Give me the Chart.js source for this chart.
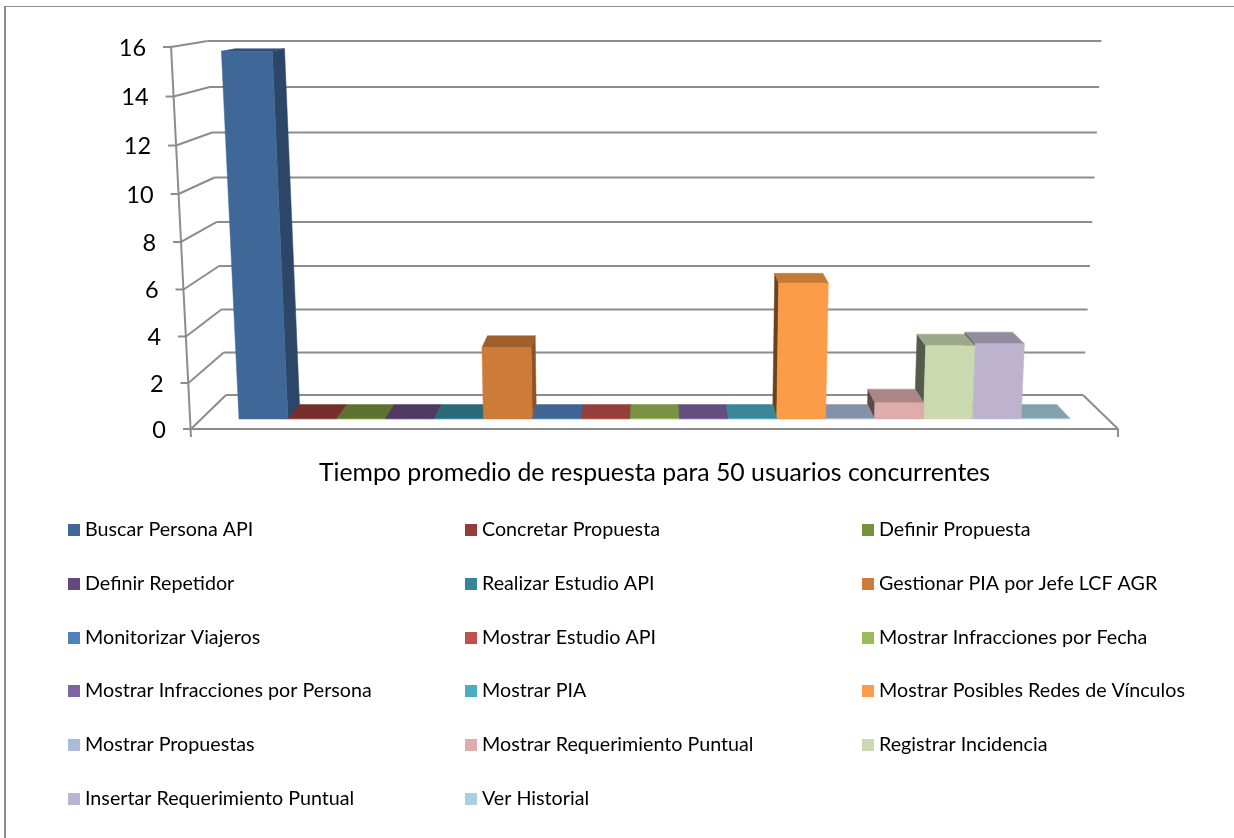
<!DOCTYPE html>
<html>
<head>
<meta charset="utf-8">
<title>Tiempo promedio de respuesta</title>
<style>
  html, body { margin: 0; padding: 0; background: #fff; }
  #frame { position: absolute; left: 4px; top: 6px; right: 0; bottom: 0; border-left: 2px solid #8c8c8c; border-top: 1.5px solid #8c8c8c; }
  canvas { position: absolute; left: 0; top: 0; }
</style>
<script src="https://cdn.jsdelivr.net/npm/chart.js@4/dist/chart.umd.js"></script>
</head>
<body>
<div id="frame"></div>
<canvas id="chart" width="1234" height="838"></canvas>
<script>
"use strict";

const categories = ['Tiempo promedio de respuesta para 50 usuarios concurrentes'];

const seriesNames = [
  'Buscar Persona API', 'Concretar Propuesta', 'Definir Propuesta',
  'Definir Repetidor', 'Realizar Estudio API', 'Gestionar PIA por Jefe LCF AGR',
  'Monitorizar Viajeros', 'Mostrar Estudio API', 'Mostrar Infracciones por Fecha',
  'Mostrar Infracciones por Persona', 'Mostrar PIA', 'Mostrar Posibles Redes de Vínculos',
  'Mostrar Propuestas', 'Mostrar Requerimiento Puntual', 'Registrar Incidencia',
  'Insertar Requerimiento Puntual', 'Ver Historial',
];

const seriesValues = [15.75, 0.02, 0.02, 0.02, 0.02, 3.17, 0.02, 0.02, 0.02, 0.02, 0.02, 5.98, 0.02, 0.73, 3.24, 3.33, 0.02];

const seriesColors = [
  '#3f6797', '#953b39', '#77923d', '#64497c', '#37859d', '#cc7b38',
  '#4f81bd', '#c0504d', '#9bbb59', '#8064a2', '#4bacc6', '#fd9c48',
  '#a9bbd9', '#ddacab', '#cbd9b0', '#bdb3cf', '#a9d0de',
];

const yMax = 16;
const yStep = 2;

const fontFamily = 'Lato, "Noto Sans", sans-serif';
const axisColor = '#8c8c8c';

// view centre and depth of the box
const centerX = 654.5;
const frameLeft = 191;
const frameRight = 1118;
const barFrontDepth = 0.294;
const barBackDepth = 0.706;

// vertical axis with a little perspective, steps get smaller towards the floor
class PerspectiveScale extends Chart.LinearScale {
  getPixelForValue(value) {
    const t = (value - this.min) / (this.max - this.min);
    const k = -0.041;
    return this.getPixelForDecimal(t * (1 + k) / (1 + k * t));
  }

  // labels follow the slanted front edge
  _computeLabelItems(chartArea) {
    const items = super._computeLabelItems(chartArea);
    items.forEach((item, i) => {
      item.options.translation[0] = worldX(frameLeft, this.ticks[i].value, 0) - 25;
      item.options.translation[1] += 1;
    });
    return items;
  }
}
PerspectiveScale.id = 'perspective';
PerspectiveScale.defaults = Chart.LinearScale.defaults;
Chart.register(PerspectiveScale);

const worldX = (x, value, depth) => centerX + (x - centerX) * (1 - 0.0755 * depth) * (1 + 0.00269 * value);

const worldY = (yScale, value, depth) => yScale.getPixelForValue(value) - depth * (34 - 1.75 * value);

const shade = (hex, factor) => {
  const n = parseInt(hex.slice(1), 16);
  const part = (shift) => Math.round(((n >> shift) & 255) * factor);
  return `rgb(${part(16)},${part(8)},${part(0)})`;
};

const polygon = (ctx, points, color) => {
  ctx.beginPath();
  points.forEach(([x, y], i) => (i ? ctx.lineTo(x, y) : ctx.moveTo(x, y)));
  ctx.closePath();
  ctx.fillStyle = color;
  ctx.fill();
  ctx.strokeStyle = color;
  ctx.lineWidth = 0.5;
  ctx.stroke();
};

const line = (ctx, x1, y1, x2, y2) => {
  ctx.beginPath();
  ctx.moveTo(x1, y1);
  ctx.lineTo(x2, y2);
  ctx.stroke();
};

const drawWalls = (chart) => {
  const { ctx } = chart;
  const yScale = chart.scales.y;
  const at = (x, value, depth) => [worldX(x, value, depth), worldY(yScale, value, depth)];

  ctx.save();
  ctx.strokeStyle = axisColor;
  ctx.lineWidth = 2;

  yScale.ticks.forEach((tick) => {
    const front = at(frameLeft, tick.value, 0);
    const backLeft = at(frameLeft, tick.value, 1);
    const backRight = at(frameRight, tick.value, 1);
    line(ctx, front[0] - 8, front[1], front[0], front[1]);
    line(ctx, front[0], front[1], backLeft[0], backLeft[1]);
    line(ctx, backLeft[0], backLeft[1], backRight[0], backRight[1]);
  });

  const bottomLeft = at(frameLeft, 0, 0);
  const bottomRight = at(frameRight, 0, 0);
  const topLeft = at(frameLeft, yMax, 0);
  const floorBack = at(frameRight, 0, 1);
  line(ctx, topLeft[0], topLeft[1], bottomLeft[0], bottomLeft[1] + 8);
  line(ctx, bottomLeft[0], bottomLeft[1], bottomRight[0], bottomRight[1]);
  line(ctx, bottomRight[0], bottomRight[1], floorBack[0], floorBack[1]);
  line(ctx, bottomRight[0], bottomRight[1], bottomRight[0], bottomRight[1] + 8);
  ctx.restore();
};

const drawBar = (chart, index) => {
  const { ctx } = chart;
  const yScale = chart.scales.y;
  const bar = chart.getDatasetMeta(index).data[0];
  const value = chart.data.datasets[index].data[0];
  const color = chart.data.datasets[index].backgroundColor;
  const { x, width } = bar.getProps(['x', 'width'], true);

  // element x is on the bar plane, take it back to the front of the box
  const toWorld = (px) => centerX + (px - centerX) / (1 - 0.0755 * barFrontDepth);
  const left = toWorld(x - width / 2);
  const right = toWorld(x + width / 2);
  const at = (wx, v, depth) => [worldX(wx, v, depth), worldY(yScale, v, depth)];

  const onLeft = x < centerX;
  const edge = onLeft ? right : left;
  polygon(ctx, [
    at(edge, 0, barFrontDepth), at(edge, 0, barBackDepth),
    at(edge, value, barBackDepth), at(edge, value, barFrontDepth),
  ], shade(color, onLeft ? 0.68 : 0.42));
  polygon(ctx, [
    at(left, value, barFrontDepth), at(right, value, barFrontDepth),
    at(right, value, barBackDepth), at(left, value, barBackDepth),
  ], shade(color, 0.78));
  polygon(ctx, [
    at(left, 0, barFrontDepth), at(right, 0, barFrontDepth),
    at(right, value, barFrontDepth), at(left, value, barFrontDepth),
  ], color);
};

const box3d = {
  id: 'box3d',
  beforeDatasetsDraw(chart) {
    drawWalls(chart);

    // outer bars first so the ones near the centre sit on top of their sides
    const count = chart.data.datasets.length;
    let low = 0;
    let high = count - 1;
    while (low <= high) {
      drawBar(chart, low);
      if (high !== low) {
        drawBar(chart, high);
      }
      low += 1;
      high -= 1;
    }
    return false;
  },
};

const gridLegend = {
  id: 'gridLegend',
  afterDraw(chart) {
    const { ctx } = chart;
    const columns = [68, 465, 862];
    const rows = [524, 578, 632, 685, 739, 793];

    ctx.save();
    ctx.font = `19.7px ${fontFamily}`;
    ctx.textBaseline = 'middle';
    chart.data.datasets.forEach((dataset, i) => {
      const x = columns[i % 3];
      const y = rows[Math.floor(i / 3)];
      ctx.fillStyle = dataset.backgroundColor;
      ctx.fillRect(x, y, 12, 12);
      ctx.fillStyle = '#000';
      ctx.fillText(dataset.label, x + 17, y + 6);
    });
    ctx.restore();
  },
};

new Chart(document.getElementById('chart'), {
  type: 'bar',
  data: {
    labels: categories,
    datasets: seriesNames.map((name, i) => ({
      label: name,
      data: [seriesValues[i]],
      backgroundColor: seriesColors[i],
    })),
  },
  options: {
    responsive: false,
    animation: false,
    events: [],
    layout: { padding: { left: 0, top: 47, right: 164, bottom: 0 } },
    datasets: { bar: { categoryPercentage: 1, barPercentage: 1 } },
    scales: {
      x: {
        type: 'category',
        grid: { display: false, drawTicks: false },
        border: { display: false },
        ticks: {
          color: '#000',
          font: { family: fontFamily, size: 24.8 },
          padding: 29,
          maxRotation: 0,
          autoSkip: false,
        },
        afterFit: (scale) => { scale.height = 409; },
      },
      y: {
        type: 'perspective',
        min: 0,
        max: yMax,
        grid: { display: false, drawTicks: false },
        border: { display: false },
        ticks: {
          stepSize: yStep,
          color: '#000',
          font: { family: fontFamily, size: 23.5 },
          autoSkip: false,
        },
        afterFit: (scale) => { scale.width = 239; },
      },
    },
    plugins: {
      legend: { display: false },
      tooltip: { enabled: false },
      title: { display: false },
    },
  },
  plugins: [box3d, gridLegend],
});
</script>
</body>
</html>
